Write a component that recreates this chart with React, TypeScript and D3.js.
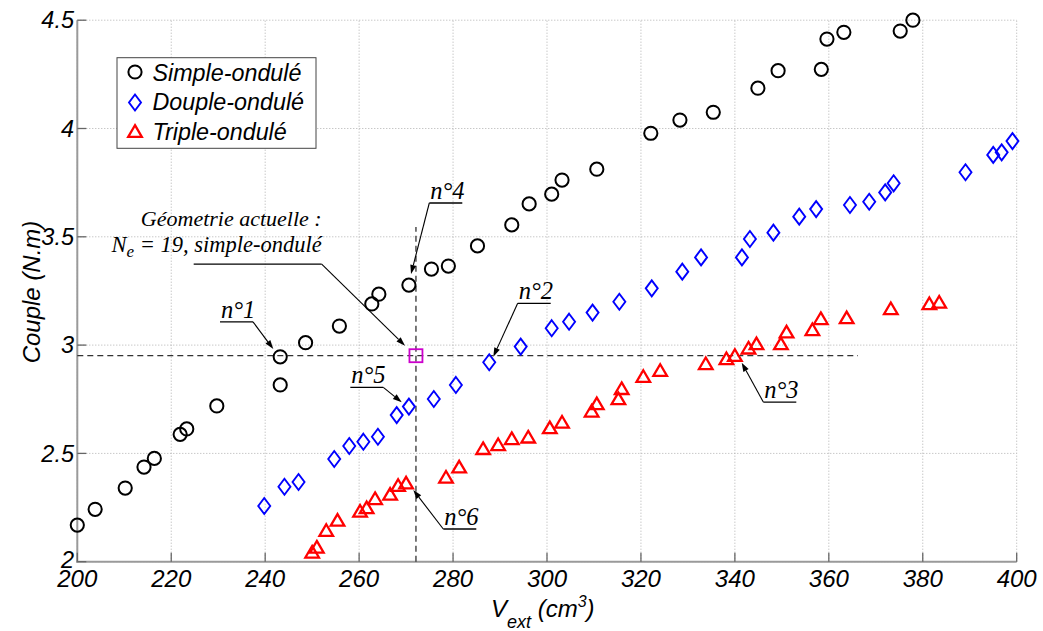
import React from "react";
import * as d3 from "d3";

// ---- Data ----
const simpleV = [200, 203.8, 210.2, 214.2, 216.4, 221.9, 223.3, 229.7, 243.2, 243.2, 248.6, 255.8, 262.7, 264.2, 270.6, 275.4, 279.0, 285.2, 292.5, 296.2, 301.0, 303.2, 310.6, 322.1, 328.3, 335.4, 344.9, 349.2, 358.4, 359.6, 363.2, 375.2, 377.9];
const simpleC = [2.169, 2.242, 2.340, 2.437, 2.477, 2.588, 2.613, 2.719, 2.816, 2.946, 3.011, 3.088, 3.190, 3.235, 3.277, 3.351, 3.365, 3.458, 3.555, 3.652, 3.697, 3.762, 3.812, 3.978, 4.039, 4.075, 4.186, 4.267, 4.273, 4.413, 4.444, 4.450, 4.500];

const doupleV = [239.8, 244.1, 247.1, 254.7, 257.9, 260.9, 264.0, 268.0, 270.6, 275.9, 280.6, 287.7, 294.4, 301.0, 304.7, 309.7, 315.4, 322.3, 328.8, 332.8, 341.5, 343.2, 348.2, 353.7, 357.3, 364.5, 368.6, 372.0, 373.8, 389.1, 395.0, 396.8, 399.1];
const doupleC = [2.257, 2.346, 2.368, 2.474, 2.534, 2.554, 2.577, 2.677, 2.716, 2.751, 2.816, 2.921, 2.993, 3.078, 3.108, 3.150, 3.200, 3.262, 3.339, 3.405, 3.405, 3.490, 3.519, 3.593, 3.628, 3.647, 3.662, 3.705, 3.747, 3.798, 3.878, 3.890, 3.942];

const tripleV = [250.0, 251.0, 253.0, 255.4, 260.2, 261.6, 263.4, 266.6, 268.3, 270.0, 278.5, 281.3, 286.4, 289.6, 292.5, 296.0, 300.6, 303.2, 309.5, 310.6, 315.2, 315.9, 320.5, 324.1, 333.8, 338.2, 340.0, 342.9, 344.6, 349.8, 351.0, 356.5, 358.3, 363.8, 373.2, 381.4, 383.5];
const tripleC = [2.046, 2.069, 2.146, 2.193, 2.235, 2.251, 2.293, 2.313, 2.354, 2.365, 2.392, 2.439, 2.524, 2.542, 2.570, 2.577, 2.620, 2.646, 2.697, 2.731, 2.754, 2.801, 2.857, 2.885, 2.916, 2.939, 2.954, 2.988, 3.008, 3.008, 3.062, 3.073, 3.124, 3.128, 3.170, 3.193, 3.200];

const xTicks = [200, 220, 240, 260, 280, 300, 320, 340, 360, 380, 400];
const yTicks = [2, 2.5, 3, 3.5, 4, 4.5];
const yTickLabels = ["2", "2.5", "3", "3.5", "4", "4.5"];

const legendLabels = ["Simple-ondulé", "Douple-ondulé", "Triple-ondulé"];

// current geometry reference point
const refV = 272.1;
const refC = 2.951;
const refHLineEnd = 366.2;
const refVLineTop = 3.545;

// annotations: tip (data), elbow (data), underline direction
const annotLabels = ["n°1", "n°4", "n°2", "n°5", "n°3", "n°6"];
const annotTipV = [241.73, 271.05, 288.57, 269.07, 341.45, 271.54];
const annotTipC = [2.982, 3.328, 2.946, 2.736, 2.919, 2.331];
const annotElbowV = [237.41, 274.94, 293.76, 265.15, 346.05, 277.92];
const annotElbowC = [3.107, 3.656, 3.193, 2.805, 2.737, 2.151];
const annotDir = [-1, 1, 1, -1, 1, 1];

const geoTip = [269.77, 2.997];
const geoElbow = [252.03, 3.374];

// ---- Layout ----
const W = 1043;
const H = 631;
const X0 = 77.3;
const X1 = 1016.7;
const Y0 = 561.7;
const Y1 = 20.2;

const sans = "'Liberation Sans', Arial, Helvetica, sans-serif";
const serif = "'Liberation Serif', 'Times New Roman', serif";

function Circle({ x, y }: { x: number; y: number }) {
  return <circle cx={x} cy={y} r={6.6} fill="none" stroke="#000" strokeWidth={2} />;
}
function Diamond({ x, y }: { x: number; y: number }) {
  const hw = 6, hh = 8;
  return (
    <path
      d={`M${x},${y - hh}L${x + hw},${y}L${x},${y + hh}L${x - hw},${y}Z`}
      fill="none"
      stroke="#0000ff"
      strokeWidth={1.9}
    />
  );
}
function Triangle({ x, y }: { x: number; y: number }) {
  const hw = 6.8, hh = 5.8;
  return (
    <path
      d={`M${x},${y - hh}L${x + hw},${y + hh}L${x - hw},${y + hh}Z`}
      fill="none"
      stroke="#ff0000"
      strokeWidth={2.3}
      strokeLinejoin="miter"
    />
  );
}

function Arrow({ x1, y1, x2, y2 }: { x1: number; y1: number; x2: number; y2: number }) {
  const ang = Math.atan2(y2 - y1, x2 - x1);
  const L = 9, Wd = 3;
  const bx = x2 - L * Math.cos(ang);
  const by = y2 - L * Math.sin(ang);
  const px = -Math.sin(ang) * Wd;
  const py = Math.cos(ang) * Wd;
  return (
    <g>
      <line x1={x1} y1={y1} x2={bx} y2={by} stroke="#000" strokeWidth={1.1} />
      <path d={`M${x2},${y2}L${bx + px},${by + py}L${bx - px},${by - py}Z`} fill="#000" />
    </g>
  );
}

export default function App() {
  const x = d3.scaleLinear().domain([200, 400]).range([X0, X1]);
  const y = d3.scaleLinear().domain([2, 4.5]).range([Y0, Y1]);

  const gridColor = "#b0b0b0";
  const axisColor = "#9a9a9a";

  return (
    <svg
      width={W}
      height={H}
      style={{ position: "absolute", left: 0, top: 0, background: "#fff" }}
    >
      <rect x={0} y={0} width={W} height={H} fill="#fff" />
      {/* grid */}
      {xTicks.map((t) => (
        <line key={"gx" + t} x1={x(t)} x2={x(t)} y1={Y0} y2={Y1} stroke={gridColor} strokeWidth={1} strokeDasharray="1,2" />
      ))}
      {yTicks.map((t) => (
        <line key={"gy" + t} x1={X0} x2={X1} y1={y(t)} y2={y(t)} stroke={gridColor} strokeWidth={1} strokeDasharray="1,2" />
      ))}
      {/* axes */}
      <line x1={X0} x2={X0} y1={Y1} y2={Y0 + 1} stroke={axisColor} strokeWidth={2} />
      <line x1={X0 - 1} x2={X1} y1={Y0} y2={Y0} stroke={axisColor} strokeWidth={2} />
      {xTicks.map((t) => (
        <line key={"tx" + t} x1={x(t)} x2={x(t)} y1={Y0} y2={Y0 - 9} stroke="#666" strokeWidth={1.3} />
      ))}
      {yTicks.map((t) => (
        <line key={"ty" + t} x1={X0} x2={X0 + 9} y1={y(t)} y2={y(t)} stroke="#666" strokeWidth={1.3} />
      ))}
      {/* tick labels */}
      {xTicks.map((t) => (
        <text key={"lx" + t} x={x(t)} y={587} textAnchor="middle" fontFamily={sans} fontStyle="italic" fontSize={24} fill="#000">
          {t}
        </text>
      ))}
      {yTicks.map((t, i) => (
        <text key={"ly" + t} x={74} y={y(t) - (i === 0 ? 2 : 0)} dy="0.35em" textAnchor="end" fontFamily={sans} fontStyle="italic" fontSize={23.5} fill="#000">
          {yTickLabels[i]}
        </text>
      ))}
      {/* axis titles */}
      <text x={491} y={616.5} fontFamily={sans} fontStyle="italic" fontSize={24} fill="#000">
        V
        <tspan fontSize={18} dy={11}>ext</tspan>
        <tspan fontSize={24} dy={-11}> (cm</tspan>
        <tspan fontSize={16} dy={-10}>3</tspan>
        <tspan fontSize={24} dy={10}>)</tspan>
      </text>
      <text
        transform={`translate(40,${292}) rotate(-90)`}
        textAnchor="middle"
        fontFamily={sans}
        fontStyle="italic"
        fontSize={24}
        fill="#000"
      >
        Couple (N.m)
      </text>

      {/* reference dashed lines */}
      <line x1={X0} x2={x(refHLineEnd)} y1={y(refC)} y2={y(refC)} stroke="#333" strokeWidth={1.3} strokeDasharray="6,4" />
      <line x1={x(refV)} x2={x(refV)} y1={Y0} y2={y(refVLineTop)} stroke="#333" strokeWidth={1.3} strokeDasharray="6,4" />

      {/* series */}
      {simpleV.map((v, i) => (
        <Circle key={"s" + i} x={x(v)} y={y(simpleC[i])} />
      ))}
      {doupleV.map((v, i) => (
        <Diamond key={"d" + i} x={x(v)} y={y(doupleC[i])} />
      ))}
      {tripleV.map((v, i) => (
        <Triangle key={"t" + i} x={x(v)} y={y(tripleC[i])} />
      ))}

      {/* reference square */}
      <rect x={x(refV) - 6.5} y={y(refC) - 6.5} width={13} height={13} fill="none" stroke="#cc00cc" strokeWidth={1.8} />

      {/* annotations */}
      {annotLabels.map((lab, i) => {
        const ex = x(annotElbowV[i]);
        const ey = y(annotElbowC[i]);
        const tx = x(annotTipV[i]);
        const ty = y(annotTipC[i]);
        const len = 33;
        const ux = ex + annotDir[i] * len;
        const left = Math.min(ex, ux);
        return (
          <g key={"a" + i}>
            <line x1={ex} y1={ey} x2={ux} y2={ey} stroke="#000" strokeWidth={1.3} />
            <Arrow x1={ex} y1={ey} x2={tx} y2={ty} />
            <text x={left + 1} y={ey - 4} fontFamily={serif} fontStyle="italic" fontSize={24.5} fill="#000">
              {lab}
            </text>
          </g>
        );
      })}
      {/* current geometry annotation */}
      <g>
        <line x1={x(geoElbow[0])} y1={y(geoElbow[1])} x2={x(geoElbow[0]) - 128} y2={y(geoElbow[1])} stroke="#000" strokeWidth={1.3} />
        <Arrow x1={x(geoElbow[0])} y1={y(geoElbow[1])} x2={x(geoTip[0])} y2={y(geoTip[1])} />
        <text x={x(geoElbow[0])} y={226} textAnchor="end" fontFamily={serif} fontStyle="italic" fontSize={22} fill="#000">
          Géometrie actuelle :
        </text>
        <text x={x(geoElbow[0])} y={252} textAnchor="end" fontFamily={serif} fontStyle="italic" fontSize={22.5} fill="#000">
          N<tspan fontSize={17} dy={5}>e</tspan>
          <tspan dy={-5}> = 19, simple-ondulé</tspan>
        </text>
      </g>

      {/* legend */}
      <rect x={117} y={57.7} width={199} height={90.6} fill="#fff" stroke="#444" strokeWidth={1} />
      <Circle x={135} y={72} />
      <Diamond x={135} y={102.5} />
      <Triangle x={135} y={131} />
      {legendLabels.map((l, i) => (
        <text key={"lg" + i} x={152.5} y={81 + i * 29.3} fontFamily={sans} fontStyle="italic" fontSize={23.3} fill="#000">
          {l}
        </text>
      ))}
    </svg>
  );
}
